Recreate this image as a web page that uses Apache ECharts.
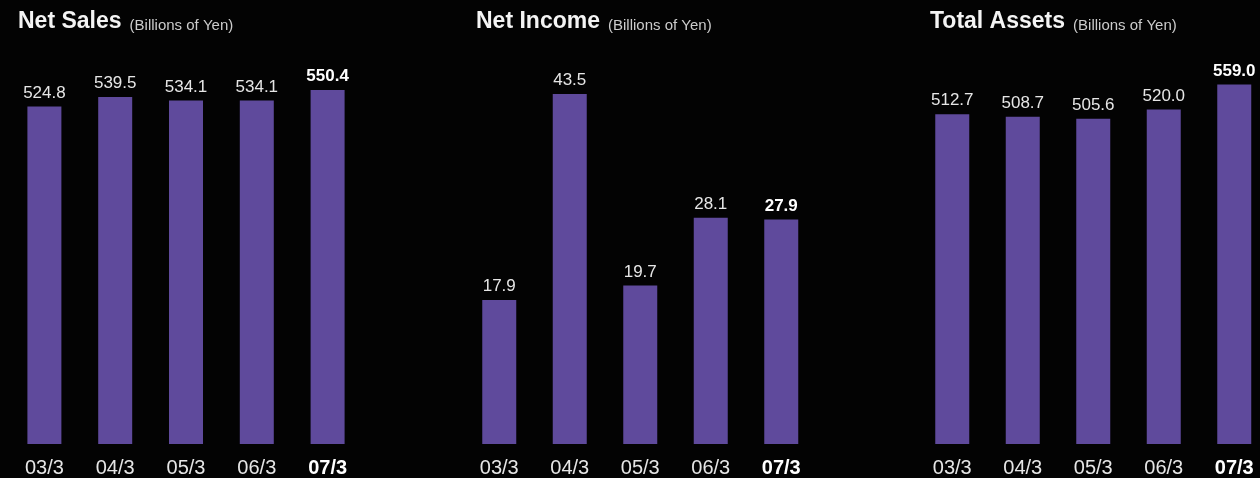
<!DOCTYPE html>
<html>
<head>
<meta charset="utf-8">
<script src="https://cdn.jsdelivr.net/npm/echarts@6/dist/echarts.min.js"></script>
<style>
html,body{margin:0;padding:0;background:#030303;}
#chart{width:1260px;height:478px;}
</style>
</head>
<body>
<div id="chart"></div>
<script>
const categories = ['03/3', '04/3', '05/3', '06/3', '07/3'];
const netSales = [524.8, 539.5, 534.1, 534.1, 550.4];
const netIncome = [17.9, 43.5, 19.7, 28.1, 27.9];
const totalAssets = [512.7, 508.7, 505.6, 520.0, 559.0];
const panelTitles = ['Net Sales', 'Net Income', 'Total Assets'];
const unitLabel = '(Billions of Yen)';
const highlightIndex = 4;

const FONT = '"Liberation Sans", Arial, Helvetica, sans-serif';
const BAR = '#5f4a9c';
const panels = [
  { data: netSales, max: 628, left: 9, width: 354, titleLeft: 18 },
  { data: netIncome, max: 50.2, left: 464, width: 352.5, titleLeft: 476 },
  { data: totalAssets, max: 628, left: 917, width: 352.5, titleLeft: 930 }
];

const chart = echarts.init(document.getElementById('chart'), null, { renderer: 'canvas' });

const option = {
  backgroundColor: '#030303',
  animation: false,
  title: panels.map((p, i) => ({
    left: p.titleLeft,
    top: 7,
    padding: 0,
    text: '{a|' + panelTitles[i] + '} {b|' + unitLabel + '}',
    textStyle: {
      fontWeight: 'normal',
      rich: {
        a: { fontFamily: FONT, fontSize: 23, fontWeight: 'bold', color: '#f4f4f4', verticalAlign: 'bottom', lineHeight: 26 },
        b: { fontFamily: FONT, fontSize: 15, fontWeight: 'normal', color: '#cccccc', verticalAlign: 'bottom', lineHeight: 22, padding: [0, 0, 0, 3] }
      }
    }
  })),
  grid: panels.map(p => ({
    left: p.left, width: p.width, top: 40, height: 404,
    containLabel: false, outerBoundsMode: 'none'
  })),
  xAxis: panels.map((p, i) => ({
    type: 'category',
    gridIndex: i,
    data: categories,
    axisLine: { show: false },
    axisTick: { show: false },
    axisLabel: {
      interval: 0,
      margin: 14,
      fontFamily: FONT,
      fontSize: 20,
      color: '#e6e6e6',
      formatter: (v, idx) => idx === highlightIndex ? '{h|' + v + '}' : v,
      rich: { h: { fontFamily: FONT, fontSize: 20, fontWeight: 'bold', color: '#ffffff' } }
    }
  })),
  yAxis: panels.map((p, i) => ({
    type: 'value',
    gridIndex: i,
    min: 0,
    max: p.max,
    show: false,
    splitLine: { show: false }
  })),
  series: panels.map((p, i) => ({
    type: 'bar',
    xAxisIndex: i,
    yAxisIndex: i,
    barWidth: 34,
    itemStyle: { color: BAR },
    label: {
      show: true,
      position: 'top',
      distance: 5,
      fontFamily: FONT,
      fontSize: 17,
      color: '#e6e6e6',
      formatter: prm => prm.value.toFixed(1)
    },
    data: p.data.map((v, k) => k === highlightIndex
      ? { value: v, label: { fontWeight: 'bold', color: '#ffffff' } }
      : v)
  }))
};
chart.setOption(option);
</script>
</body>
</html>
